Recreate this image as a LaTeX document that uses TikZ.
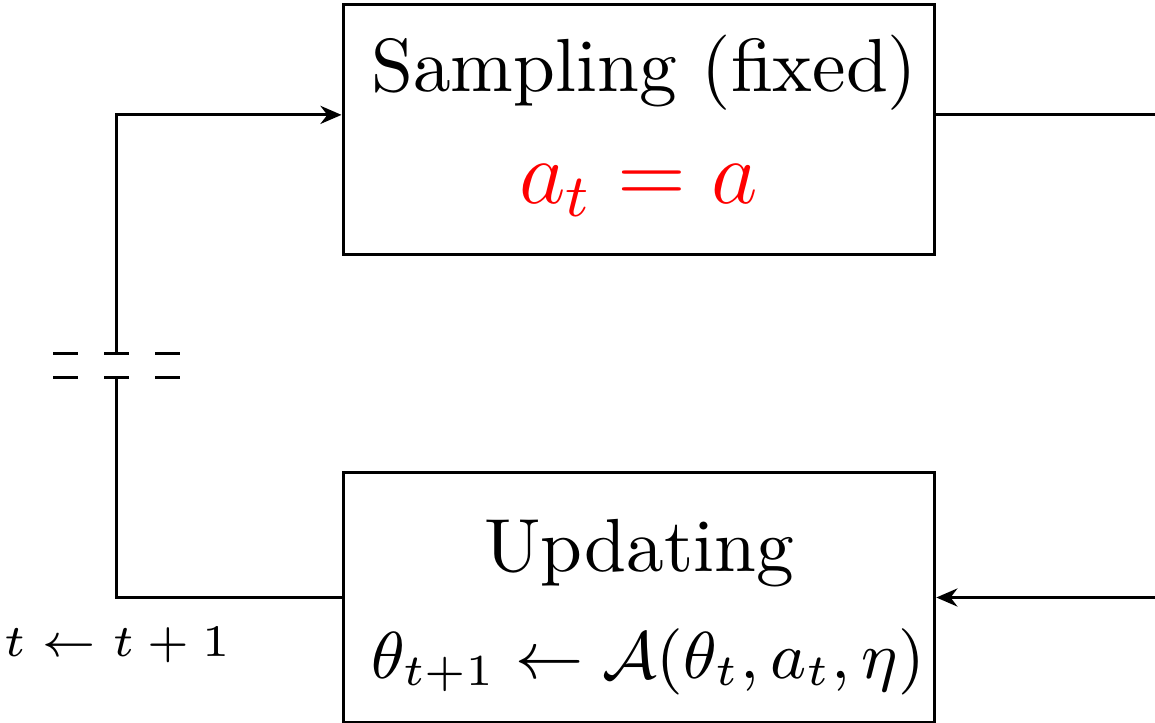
\documentclass[tikz,border=0pt]{standalone}
\usepackage{amsmath,amssymb}
\usepackage{tikz}
\usetikzlibrary{arrows.meta,positioning}
\usepackage{xcolor}

\begin{document}
\begin{tikzpicture}[>={Stealth[length=2.8pt,width=2.4pt]},
  stage/.style={draw, minimum width=78.6pt, minimum height=33.2pt, inner sep=0pt},
  line/.style={anchor=base, inner sep=0pt}]
\useasboundingbox (0,0) rectangle (153.4pt,-95.9pt);
\coordinate (edge) at (153.4pt,0);
\coordinate (loopx) at (15.5pt,0);
% the two stages
\node[stage] (samp) at (84.86pt,-17.26pt) {};
\node[stage, below=28.5pt of samp] (upd) {};
\node[line] (samptxt) at ([xshift=0.7pt,yshift=-11.73pt]samp.north) {Sampling (fixed)};
\node[line, text=red, font=\large] (sampeq) at ([yshift=-26.56pt]samp.north) {$a_t = a$};
\node[line] (updtxt) at ([yshift=-13.28pt]upd.north) {Updating};
\node[line, font=\small, scale=0.98] (updeq) at ([xshift=1.2pt,yshift=-27.5pt]upd.north) {$\theta_{t+1} \leftarrow \mathcal{A}(\theta_t, a_t, \eta)$};
\coordinate (sin) at ([yshift=2pt]samp.west);
\coordinate (sout) at ([yshift=2pt]samp.east);
\coordinate (corner) at (upd.west -| loopx);
\coordinate (brklo) at (15.5pt,-50.1pt);
\coordinate (brkhi) at (15.5pt,-47pt);
% loop back
\draw (upd.west) -- (corner) -- (brklo);
\draw[->] (brkhi) -- (brkhi |- sin) -- (sin);
\foreach \dx in {-6.77,0,6.77} {
  \draw ([xshift=\dx pt-1.66pt]brkhi) -- ++(3.32pt,0);
  \draw ([xshift=\dx pt-1.66pt]brklo) -- ++(3.32pt,0);
}
\node[line, font=\fontsize{6}{7}\selectfont] (inc) at ([yshift=-7.8pt]corner) {$t \leftarrow t+1$};
% outer links
\draw (sout) -- (sout -| edge);
\draw[->] (upd.east -| edge) -- (upd.east);
\end{tikzpicture}
\end{document}
